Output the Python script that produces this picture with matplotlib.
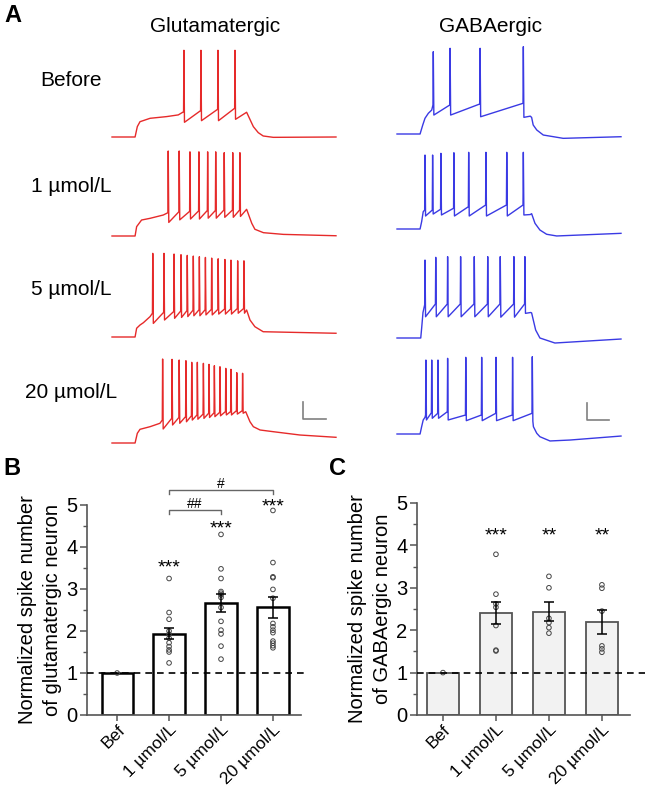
import matplotlib
matplotlib.use('Agg')
import matplotlib.pyplot as plt
from matplotlib.transforms import ScaledTranslation

plt.rcParams['font.family'] = ['Liberation Sans', 'DejaVu Sans']

# ---------------- panel A: traces (time in ms, voltage in mV) ----------------
rows = ['Before', '1 µmol/L', '5 µmol/L', '20 µmol/L']

glu_on_t = [[0, 103, 113, 125, 170, 244, 296],
            [0, 103, 110, 132, 170, 229],
            [0, 103, 110, 125, 140, 170],
            [0, 103, 113, 125, 170, 214]]
glu_on_v = [[-70, -70, -57.8, -52, -48, -46, -44],
            [-70, -70, -59, -51.2, -49.2, -45.3],
            [-70, -70, -59.7, -55.9, -53.2, -46],
            [-70, -70, -58.6, -53.9, -50.8, -46.8]]
glu_spk = [[321, 397, 473, 549],
           [251, 300, 348, 388, 427, 463, 501, 539, 571],
           [182, 232, 277, 308, 336, 363, 390, 417, 445, 474, 504, 531, 561, 589],
           [226, 268, 300, 330, 356, 381, 408, 433, 457, 482, 508, 531, 557, 583]]
glu_peak = [[32, 32, 32, 32],
            [30, 30, 29, 29, 29, 29, 28, 28, 28],
            [28.4, 28.4, 27.6, 26.8, 26, 25.2, 24.4, 23.6, 22.8, 22, 21.2, 20.4, 19.6, 19.6],
            [28.8, 28.4, 27.6, 26.8, 24.9, 24.9, 23.7, 22.5, 20.9, 19.7, 17.8, 16.7, 12.7, 12.0]]
glu_trough = [[-52.7, -50.8, -50.8, -49.2],
              [-54, -51, -50, -50, -49, -49, -48, -48, -47],
              [-54, -50, -48, -47, -46, -45, -45, -44, -44, -43, -43, -43, -42, -42],
              [-53.5, -48.8, -46.8, -45, -43, -42, -41, -40, -39, -38, -37, -37, -36, -35]]
glu_thresh = [[-40.3, -39, -37.4, -36.2],
              [-42.6, -41.5, -41, -40.5, -40, -40, -39.5, -39.5, -39.5],
              [-42, -41, -40, -39.5, -39, -38.5, -38, -38, -37.5, -37.5, -37, -37, -36.5, -36.5],
              [-43, -41, -40, -39, -38, -37, -36, -35, -34.5, -34, -33, -33, -32, -32]]
glu_off_t = [[601, 631, 653, 675, 720, 1000],
             [601, 624, 638, 676, 765, 1000],
             [601, 616, 638, 675, 1000],
             [597, 616, 631, 661, 720, 839, 1000]]
glu_off_v = [[-40.9, -57.8, -64.9, -68.8, -70.4, -70],
             [-38.6, -55.1, -62.1, -66.1, -68.1, -69.7],
             [-38.2, -50, -57.9, -63.8, -65.6],
             [-33.2, -45, -50.8, -54.7, -56.7, -60.6, -63.3]]

gaba_on_t = [[0, 103, 106, 115, 125, 140, 155],
             [0, 103, 110, 117],
             [0, 106, 110, 116],
             [0, 103, 110, 117, 125]]
gaba_on_v = [[-70, -70, -67.3, -59.4, -51.5, -45.6, -41.8],
             [-70, -70, -61.4, -49.7],
             [-70, -70, -58.6, -40],
             [-70, -70, -61.4, -53.5, -50.4]]
gaba_spk = [[162, 237, 371, 564],
            [125, 159, 196, 254, 320, 397, 490, 564],
            [125, 173, 226, 284, 345, 405, 461, 522, 571],
            [129, 155, 183, 226, 307, 378, 442, 516, 604]]
gaba_peak = [[26.8, 30.8, 30.8, 32.7],
             [17, 17, 19, 19.7, 20.2, 20.2, 20.2, 20.2],
             [21.7, 24.9, 25.7, 25.7, 25.7, 25.7, 25.7, 25.7, 25.7],
             [17, 17, 17, 19, 20.2, 20.2, 20.2, 20.2, 20.9]]
gaba_trough = [[-47.7, -47.7, -49.7, -50.4],
               [-54.7, -52.4, -53.5, -54.7, -54.7, -54.7, -54.7, -53.5],
               [-45, -45, -45, -45, -45, -45, -45.5, -45.5, -41],
               [-53.5, -51.5, -51.5, -53.5, -54.3, -54.3, -54.3, -54.3, -55]]
gaba_thresh = [[-35.9, -35.9, -34.7, -33.9],
               [-47.7, -47.7, -46.8, -45.6, -43.8, -41.8, -41.8, -41.8],
               [-31, -30, -30, -30, -30, -30, -30, -30, -30],
               [-47.7, -45, -45.7, -43.8, -47.7, -47.7, -45.7, -47.7, -45.7]]
gaba_off_t = [[595, 601, 608, 624, 653, 742, 1000],
              [595, 601, 616, 638, 668, 713, 1000],
              [597, 601, 619, 638, 705, 1000],
              [609, 624, 638, 683, 772, 1000]]
gaba_off_v = [[-49, -50.5, -59.4, -65.3, -71.2, -75.1, -73.2],
              [-53, -52, -63.3, -71.2, -76.2, -78.2, -75.1],
              [-40, -40.5, -60.6, -70, -75.9, -71.2],
              [-61.4, -69.2, -73.2, -78.2, -77.1, -72.4]]

# ---------------- panels B, C: normalized spike number ----------------
conds = ['Bef', '1 µmol/L', '5 µmol/L', '20 µmol/L']
glu_mean = [1.0, 1.94, 2.66, 2.56]
glu_sem = [0, 0.13, 0.21, 0.25]
glu_pts = [[1.0],
           [3.25, 2.44, 2.28, 2.0, 1.92, 1.83, 1.72, 1.63, 1.55, 1.5, 1.24],
           [4.30, 3.48, 3.25, 2.94, 2.90, 2.86, 2.80, 2.56, 2.23, 2.02, 1.93, 1.64, 1.33],
           [4.87, 3.63, 3.29, 3.27, 2.99, 2.78, 2.18, 2.10, 2.02, 1.96, 1.76, 1.71, 1.65, 1.60]]
glu_stars = ['', '***', '***', '***']
glu_star_y = [0, 3.65, 4.58, 5.10]

gaba_mean = [1.0, 2.41, 2.44, 2.19]
gaba_sem = [0, 0.26, 0.23, 0.29]
gaba_pts = [[1.0],
            [3.79, 2.85, 2.62, 2.54, 2.11, 1.53, 1.51],
            [3.27, 3.0, 2.28, 2.18, 2.06, 1.93],
            [3.07, 2.99, 2.45, 1.63, 1.56, 1.48]]
gaba_stars = ['', '***', '**', '**']
gaba_star_y = [0, 4.39, 4.39, 4.39]

# (from, to, height, label)
glu_brackets = [(1, 2, 4.88, '##'), (1, 3, 5.36, '#')]

# ---------------- figure ----------------
W, H = 645, 790
fig = plt.figure(figsize=(W / 100, H / 100), dpi=100)


def px_axes(left, bottom, w, h):
    return fig.add_axes([left / W, 1 - bottom / H, w / W, h / H])


def build(on_t, on_v, spk, pk, tr, th, off_t, off_v):
    t, v = list(on_t), list(on_v)
    for s, p, a, b in zip(spk, pk, tr, th):
        t += [s - 1.5, s, s + 2.5]
        v += [b, p, a]
    return t + list(off_t), v + list(off_v)


mv_per_px = 20 / 17.0
glu_base_px = [137, 236, 337, 443]
gaba_base_px = [134, 229, 338, 434]
vmin, vmax = -82, 36

cols = [(112, glu_base_px, '#e62a2a', glu_on_t, glu_on_v, glu_spk, glu_peak, glu_trough,
         glu_thresh, glu_off_t, glu_off_v),
        (397, gaba_base_px, '#3a3ae4', gaba_on_t, gaba_on_v, gaba_spk, gaba_peak, gaba_trough,
         gaba_thresh, gaba_off_t, gaba_off_v)]

trace_axes = []
for x0, bases, col, ont, onv, spk, pk, tr, th, offt, offv in cols:
    axs = []
    for i in range(4):
        b = bases[i] + (-70 - vmin) / mv_per_px
        ax = px_axes(x0, b, 224, (vmax - vmin) / mv_per_px)
        t, v = build(ont[i], onv[i], spk[i], pk[i], tr[i], th[i], offt[i], offv[i])
        ax.plot(t, v, color=col, lw=1.0, solid_joinstyle='round', clip_on=False)
        ax.set_xlim(0, 1000)
        ax.set_ylim(vmin, vmax)
        ax.axis('off')
        axs.append(ax)
    trace_axes.append(axs)

# scale bars: 100 ms, 20 mV
trace_axes[0][3].plot([854, 854, 954], [-22, -42, -42], color='#808080', lw=1.2, clip_on=False)
trace_axes[1][3].plot([847, 847, 947], [-33, -53, -53], color='#808080', lw=1.2, clip_on=False)

for lab, yc in zip(rows, [80, 187, 290, 392]):
    fig.text(71 / W, 1 - yc / H, lab, ha='center', va='center', fontsize=15)
fig.text(215 / W, 1 - 26 / H, 'Glutamatergic', ha='center', va='center', fontsize=15)
fig.text(490 / W, 1 - 26 / H, 'GABAergic', ha='center', va='center', fontsize=15)

fig.text(4 / W, 1 - 16 / H, 'A', ha='left', va='center', fontsize=17, fontweight='bold')
fig.text(3 / W, 1 - 468 / H, 'B', ha='left', va='center', fontsize=17, fontweight='bold')
fig.text(329 / W, 1 - 468 / H, 'C', ha='left', va='center', fontsize=17, fontweight='bold')


def bar_panel(ax, mean, sem, pts, stars, star_y, face, edge, elw, xlim, dash_end, ylab):
    x = range(len(conds))
    ax.bar(x, mean, width=0.6, color=face, edgecolor=edge, linewidth=elw, zorder=2)
    for i, p in enumerate(pts):
        ax.scatter([i] * len(p), p, s=11, facecolors='none', edgecolors='#444444',
                   linewidths=0.7, zorder=3)
    ax.errorbar(list(x)[1:], mean[1:], yerr=sem[1:], fmt='none', ecolor='black',
                elinewidth=1.1, capsize=3.3, capthick=1.1, zorder=4)
    ax.plot([xlim[0], dash_end], [1, 1], color='black', lw=1.2, ls=(0, (4, 3)),
            zorder=5, clip_on=False)
    for i, (s, y) in enumerate(zip(stars, star_y)):
        if s:
            ax.annotate(s, (i, y), xytext=(0, -8), textcoords='offset points',
                        ha='center', va='baseline', fontsize=14, annotation_clip=False)
    ax.set_xlim(*xlim)
    ax.set_ylim(0, 5)
    ax.set_yticks(range(6))
    ax.set_yticks([k + 0.5 for k in range(5)], minor=True)
    ax.set_xticks(list(x))
    ax.set_xticklabels(conds, rotation=45, ha='right', rotation_mode='anchor', fontsize=12.5)
    shift = ScaledTranslation(6 / 72, 2 / 72, fig.dpi_scale_trans)
    for lab in ax.get_xticklabels():
        lab.set_transform(lab.get_transform() + shift)
    ax.tick_params(axis='y', labelsize=14.5, direction='out', length=5, width=1.1,
                   color='#555555', pad=2)
    ax.tick_params(axis='y', which='minor', direction='out', length=3, width=1.0,
                   color='#555555')
    ax.tick_params(axis='x', direction='out', length=4, width=1.1, color='#555555', pad=1)
    for sp in ['top', 'right']:
        ax.spines[sp].set_visible(False)
    for sp in ['left', 'bottom']:
        ax.spines[sp].set_color('#555555')
        ax.spines[sp].set_linewidth(1.2)
    ax.set_ylabel(ylab, fontsize=14.5, linespacing=1.4, labelpad=3)


ax_b = px_axes(87, 715, 214, 210)
bar_panel(ax_b, glu_mean, glu_sem, glu_pts, glu_stars, glu_star_y, 'white', 'black', 1.8,
          (-0.58, 3.54), 3.6, 'Normalized spike number\nof glutamatergic neuron')
for a, b, h, lab in glu_brackets:
    ax_b.plot([a, a, b, b], [h - 0.1, h, h, h - 0.1], color='#666666', lw=1.0, clip_on=False)
    ax_b.annotate(lab, ((a + b) / 2, h + 0.17), xytext=(0, -4), textcoords='offset points',
                  ha='center', va='baseline', fontsize=10, annotation_clip=False)

ax_c = px_axes(417, 715, 213, 212)
bar_panel(ax_c, gaba_mean, gaba_sem, gaba_pts, gaba_stars, gaba_star_y, '#f2f2f2', '#555555',
          1.3, (-0.49, 3.53), 3.9, 'Normalized spike number\nof GABAergic neuron')

fig.savefig('out.png', dpi=100)
